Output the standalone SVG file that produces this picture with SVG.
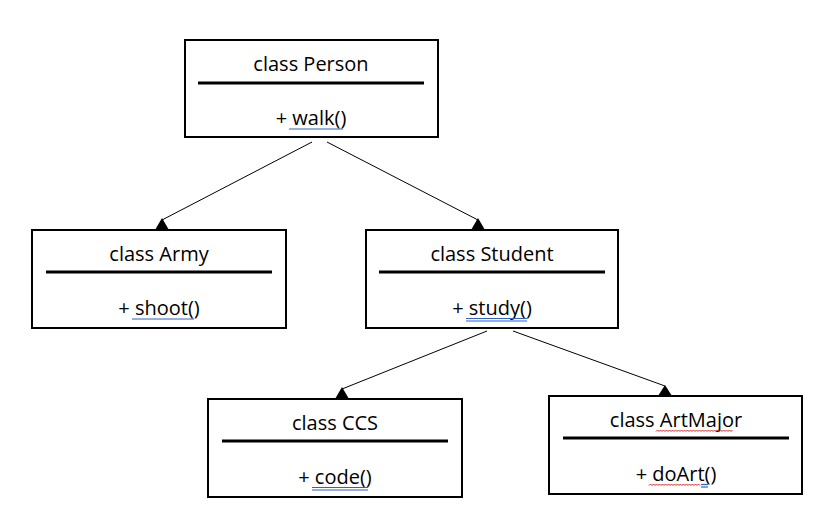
<svg xmlns="http://www.w3.org/2000/svg" width="819" height="524" viewBox="0 0 819 524">
<style>
.box{fill:#fff;stroke:#000;stroke-width:2}
.sep{stroke:#000;stroke-width:3}
.t{font-family:"Open Sans","Liberation Sans",sans-serif;font-size:20px;fill:#000;text-anchor:middle}
.conn{stroke:#000;stroke-width:1;fill:none}
.head{fill:#000}
.ub{stroke:#2b63c6;stroke-width:1.2;fill:none}
.ur{stroke:#e02020;stroke-width:1;fill:none}
</style>
<rect width="819" height="524" fill="#fff"/>
<g id="connectors">
<line class="conn" x1="312" y1="142" x2="162" y2="220"/>
<polygon class="head" points="162,218 155,230 169,230"/>
<line class="conn" x1="327" y1="142" x2="478" y2="220"/>
<polygon class="head" points="478,218 471,230 485,230"/>
<line class="conn" x1="487" y1="331" x2="342" y2="389"/>
<polygon class="head" points="342,387 335,399 349,399"/>
<line class="conn" x1="513" y1="331" x2="665" y2="386"/>
<polygon class="head" points="665,385 658,396 672,396"/>
</g>
<g id="person">
<rect class="box" x="185" y="40" width="253" height="97"/>
<line class="sep" x1="198" y1="83" x2="424" y2="83"/>
<text class="t" x="311" y="71">class Person</text>
<text class="t" x="311" y="125">+ walk()</text>
<line class="ub" x1="289" y1="129" x2="343" y2="129"/>
</g>
<g id="army">
<rect class="box" x="32" y="230" width="254" height="98"/>
<line class="sep" x1="46" y1="272" x2="272" y2="272"/>
<text class="t" x="159" y="261">class Army</text>
<text class="t" x="159" y="315">+ shoot()</text>
<line class="ub" x1="132" y1="319" x2="194" y2="319"/>
</g>
<g id="student">
<rect class="box" x="366" y="230" width="252" height="98"/>
<line class="sep" x1="379" y1="272" x2="605" y2="272"/>
<text class="t" x="492" y="261">class Student</text>
<text class="t" x="492" y="315">+ study()</text>
<line class="ub" x1="466" y1="318.5" x2="527" y2="318.5"/>
<line class="ub" x1="466" y1="321" x2="527" y2="321"/>
</g>
<g id="ccs">
<rect class="box" x="208" y="399" width="254" height="98"/>
<line class="sep" x1="222" y1="441" x2="448" y2="441"/>
<text class="t" x="335" y="430">class CCS</text>
<text class="t" x="335" y="484">+ code()</text>
<line class="ub" x1="312" y1="487.5" x2="368" y2="487.5"/>
<line class="ub" x1="312" y1="490" x2="368" y2="490"/>
</g>
<g id="artmajor">
<rect class="box" x="549" y="396" width="253" height="98"/>
<line class="sep" x1="563" y1="438" x2="789" y2="438"/>
<text class="t" x="676" y="427">class ArtMajor</text>
<text class="t" x="676" y="481">+ doArt()</text>
<path class="ur" d="M656 431.5 l1.5 -1.5 l1.5 1.5 l1.5 -1.5 l1.5 1.5 l1.5 -1.5 l1.5 1.5 l1.5 -1.5 l1.5 1.5 l1.5 -1.5 l1.5 1.5 l1.5 -1.5 l1.5 1.5 l1.5 -1.5 l1.5 1.5 l1.5 -1.5 l1.5 1.5 l1.5 -1.5 l1.5 1.5 l1.5 -1.5 l1.5 1.5 l1.5 -1.5 l1.5 1.5 l1.5 -1.5 l1.5 1.5 l1.5 -1.5 l1.5 1.5 l1.5 -1.5 l1.5 1.5 l1.5 -1.5 l1.5 1.5 l1.5 -1.5 l1.5 1.5 l1.5 -1.5 l1.5 1.5 l1.5 -1.5 l1.5 1.5 l1.5 -1.5 l1.5 1.5 l1.5 -1.5 l1.5 1.5 l1.5 -1.5 l1.5 1.5 l1.5 -1.5 l1.5 1.5 l1.5 -1.5 l1.5 1.5 l1.5 -1.5 l1.5 1.5 l1.5 -1.5 l1.5 1.5 l1.5 -1.5"/>
<path class="ur" d="M649 485.5 l1.5 -1.5 l1.5 1.5 l1.5 -1.5 l1.5 1.5 l1.5 -1.5 l1.5 1.5 l1.5 -1.5 l1.5 1.5 l1.5 -1.5 l1.5 1.5 l1.5 -1.5 l1.5 1.5 l1.5 -1.5 l1.5 1.5 l1.5 -1.5 l1.5 1.5 l1.5 -1.5 l1.5 1.5 l1.5 -1.5 l1.5 1.5 l1.5 -1.5 l1.5 1.5 l1.5 -1.5 l1.5 1.5 l1.5 -1.5 l1.5 1.5 l1.5 -1.5 l1.5 1.5 l1.5 -1.5 l1.5 1.5 l1.5 -1.5 l1.5 1.5 l1.5 -1.5 l1.5 1.5"/>
<line class="ub" x1="701" y1="484.5" x2="708" y2="484.5"/>
<line class="ub" x1="701" y1="487" x2="708" y2="487"/>
</g>
</svg>
